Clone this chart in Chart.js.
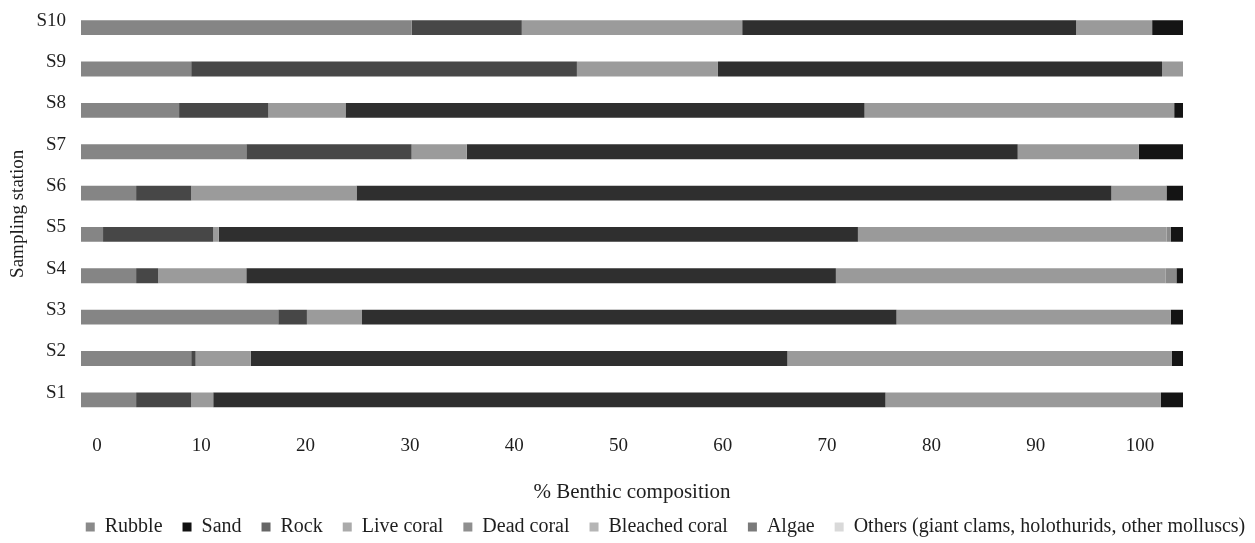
<!DOCTYPE html>
<html>
<head>
<meta charset="utf-8">
<script src="https://cdn.jsdelivr.net/npm/chart.js@4.4.1/dist/chart.umd.min.js"></script>
<style>
html, body { margin: 0; padding: 0; background: #ffffff; }
#wrap { width: 1255px; height: 543px; position: relative; }
</style>
</head>
<body>
<div id="wrap"><canvas id="c"></canvas></div>
<script>
// ---- Data (percent of benthic cover per sampling station) ----
const stations = ['S1', 'S2', 'S3', 'S4', 'S5', 'S6', 'S7', 'S8', 'S9', 'S10'];
const rubble        = [5,   10,   17.9, 5,    2,    5,    15,   8.9,  10,   30];
const rock          = [5,   0.4,  2.6,  2,    10,   5,    15,   8.1,  35,   10];
const liveCoral     = [2,   5,    5,    8,    0.5,  15,   5,    7,    12.8, 20];
const sand          = [61,  48.7, 48.5, 53.5, 58,   68.5, 50,   47.1, 40.3, 30.3];
const deadCoral     = [25,  34.9, 24.9, 29.9, 28,   5,    11,   28.1, 1.9,  6.9];
const bleachedCoral = [0,   0,    0,    1.0,  0.4,  0,    0,    0,    0,    0];
const algae         = [0,   0,    0,    0,    0,    0,    0,    0,    0,    0];
const others        = [2,   1.1,  1.1,  0.6,  1.1,  1.5,  4,    0.8,  0,    2.8];
const xTickLabels   = [0, 10, 20, 30, 40, 50, 60, 70, 80, 90, 100];
const legendOrder = ['Rubble', 'Sand', 'Rock', 'Live coral', 'Dead coral', 'Bleached coral', 'Algae',
                     'Others (giant clams, holothurids, other molluscs)'];

// ---- Styles ----
const barColors = {
  'Rubble': '#858585', 'Rock': '#474747', 'Live coral': '#9b9b9b', 'Sand': '#2f2f2f',
  'Dead coral': '#9a9a9a', 'Bleached coral': '#8a8a8a', 'Algae': '#7a7a7a',
  'Others (giant clams, holothurids, other molluscs)': '#141414'
};
const legendColors = {
  'Rubble': '#8a8a8a', 'Sand': '#111111', 'Rock': '#666666', 'Live coral': '#aaaaaa',
  'Dead coral': '#8f8f8f', 'Bleached coral': '#b5b5b5', 'Algae': '#7a7a7a',
  'Others (giant clams, holothurids, other molluscs)': '#d9d9d9'
};
const FONT = 'Liberation Serif, "Times New Roman", serif';
const TEXT = '#1e1e1e';
const LEGEND_SHIFT_X = 38;
const LEGEND_SHIFT_Y = 4;

const seriesInBarOrder = [
  ['Rubble', rubble], ['Rock', rock], ['Live coral', liveCoral], ['Sand', sand],
  ['Dead coral', deadCoral], ['Bleached coral', bleachedCoral], ['Algae', algae],
  ['Others (giant clams, holothurids, other molluscs)', others]
];

const datasets = seriesInBarOrder.map(([label, values]) => ({
  label: label,
  data: values,
  backgroundColor: barColors[label],
  borderWidth: 0,
  xAxisID: 'x',
  yAxisID: 'y',
  categoryPercentage: 1,
  barPercentage: 0.36
}));

const legendShift = {
  id: 'legendShift',
  afterLayout(chart) {
    const lg = chart.legend;
    if (lg) {
      lg.left += LEGEND_SHIFT_X;
      lg.right += LEGEND_SHIFT_X;
      lg.top += LEGEND_SHIFT_Y;
      lg.bottom += LEGEND_SHIFT_Y;
    }
  }
};

new Chart(document.getElementById('c'), {
  type: 'bar',
  data: { labels: stations, datasets: datasets },
  plugins: [legendShift],
  options: {
    indexAxis: 'y',
    responsive: true,
    maintainAspectRatio: false,
    animation: false,
    layout: { padding: { top: 7, left: 0, right: 0, bottom: 0 } },
    plugins: {
      tooltip: { enabled: false },
      legend: {
        position: 'bottom',
        labels: {
          boxWidth: 9,
          boxHeight: 9,
          padding: 20,
          color: TEXT,
          font: { family: FONT, size: 20 },
          generateLabels(chart) {
            const items = Chart.defaults.plugins.legend.labels.generateLabels(chart);
            items.forEach(it => {
              it.fillStyle = legendColors[it.text];
              it.strokeStyle = legendColors[it.text];
              it.lineWidth = 0;
            });
            return items;
          },
          sort(a, b) { return legendOrder.indexOf(a.text) - legendOrder.indexOf(b.text); }
        }
      }
    },
    scales: {
      x: {
        stacked: true,
        min: 0,
        max: 100,
        display: false
      },
      x2: {
        type: 'linear',
        axis: 'x',
        position: 'bottom',
        min: -1.53,
        max: 104.12,
        grid: { display: false, drawTicks: false },
        border: { display: false },
        ticks: {
          padding: 14,
          color: TEXT,
          font: { family: FONT, size: 19 },
          callback: v => String(v)
        },
        afterBuildTicks(scale) { scale.ticks = xTickLabels.map(v => ({ value: v })); },
        afterFit(scale) { scale.height = 72.5; scale.paddingLeft = 0; scale.paddingRight = 72; },
        title: {
          display: true,
          text: '% Benthic composition',
          color: TEXT,
          font: { family: FONT, size: 21 },
          padding: { top: 0, bottom: -12.5 }
        }
      },
      y: {
        stacked: true,
        reverse: true,
        grid: { display: false, drawTicks: false },
        border: { display: false },
        ticks: {
          padding: 15,
          labelOffset: -7,
          color: TEXT,
          font: { family: FONT, size: 19 }
        },
        afterFit(scale) { scale.width = 81; scale.paddingTop = 0; scale.paddingBottom = 0; },
        title: {
          display: true,
          text: 'Sampling station',
          color: TEXT,
          font: { family: FONT, size: 19 },
          padding: { top: 7, bottom: 0 }
        }
      }
    }
  }
});
</script>
</body>
</html>
